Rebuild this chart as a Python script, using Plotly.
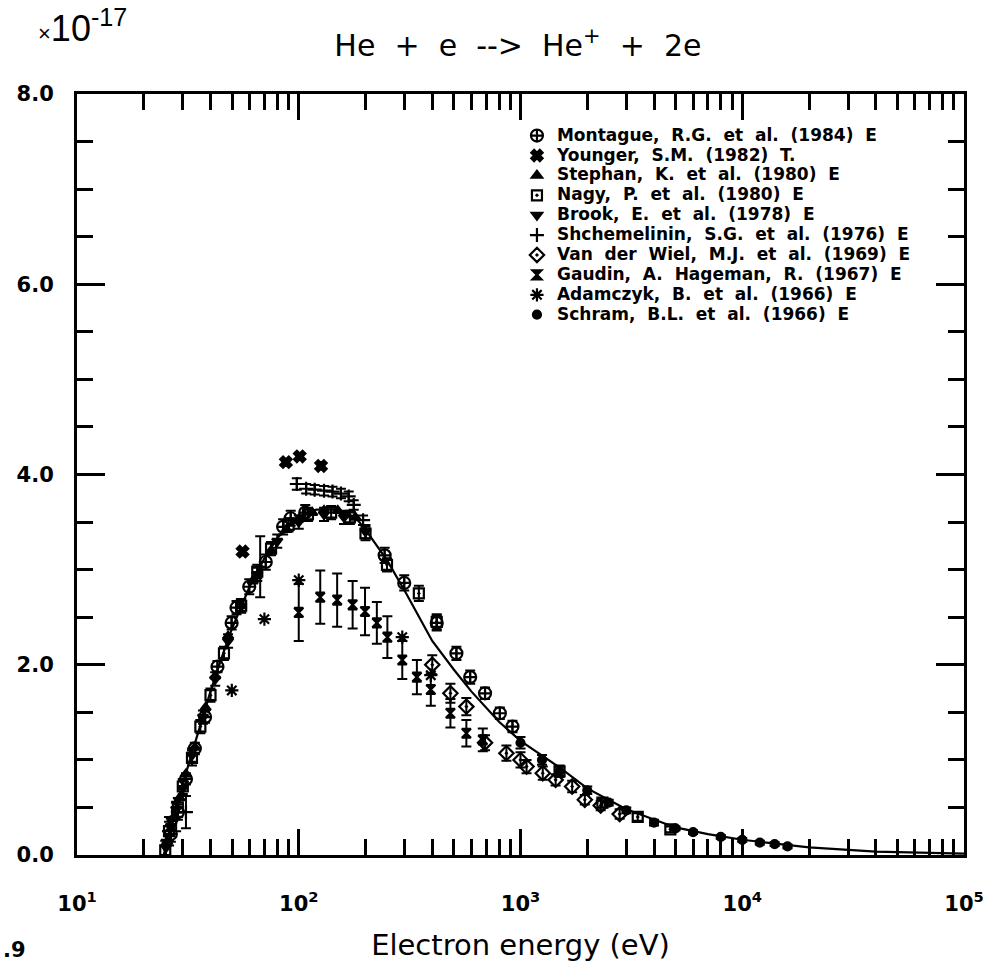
import plotly.graph_objects as go

# Recommended cross-section curve (units of 1e-17 cm^2)
fit_energy = [24.6, 26, 28, 30, 33, 36, 40, 45, 50, 60, 70, 80, 90, 100, 120, 150,
              180, 200, 250, 300, 400, 500, 600, 800, 1000, 1500, 2000, 3000, 5000,
              7000, 10000, 20000, 40000, 100000]
fit_sigma = [0.0, 0.22, 0.5, 0.75, 1.08, 1.38, 1.72, 2.08, 2.38, 2.82, 3.12, 3.33,
             3.47, 3.56, 3.63, 3.63, 3.55, 3.42, 3.1, 2.78, 2.25, 1.95, 1.72, 1.40,
             1.2, 0.92, 0.70, 0.48, 0.29, 0.22, 0.16, 0.08, 0.035, 0.015]

montague_energy = [26.5, 28.5, 31, 34, 37.8, 43, 49.8, 52.4, 59.8, 71, 85, 92, 107,
                   244, 299, 419, 514, 593, 692, 807, 920]
montague_sigma = [0.22, 0.45, 0.8, 1.12, 1.45, 1.98, 2.44, 2.6, 2.82, 3.08, 3.45, 3.54,
                  3.6, 3.15, 2.86, 2.44, 2.12, 1.87, 1.70, 1.49, 1.35]
montague_err = [0.08, 0.08, 0.06, 0.06, 0.06, 0.06, 0.07, 0.07, 0.08, 0.08, 0.08, 0.08,
                0.08, 0.08, 0.08, 0.08, 0.07, 0.07, 0.06, 0.06, 0.06]

younger_energy = [55.8, 87.5, 101, 126]
younger_sigma = [3.19, 4.13, 4.19, 4.09]

stephan_energy = [25.5, 27, 29, 31, 34, 38, 42, 48, 55, 62, 75, 88, 100, 115, 130,
                  150, 180]
stephan_sigma = [0.14, 0.38, 0.6, 0.85, 1.13, 1.55, 1.88, 2.3, 2.62, 2.88, 3.2, 3.42,
                 3.53, 3.6, 3.62, 3.62, 3.55]

nagy_energy = [25, 26, 28.5, 30, 33, 36, 40, 46, 55, 65, 75, 90, 110, 140, 170, 200,
               250, 348, 419, 1500, 2340, 3378, 4740]
nagy_sigma = [0.05, 0.25, 0.5, 0.72, 1.02, 1.35, 1.68, 2.12, 2.62, 2.98, 3.22, 3.47,
              3.58, 3.6, 3.55, 3.38, 3.05, 2.75, 2.45, 0.88, 0.55, 0.40, 0.27]
nagy_err = [0.1, 0.1, 0.1, 0.08, 0.08, 0.07, 0.07, 0.07, 0.07, 0.07, 0.07, 0.07, 0.07,
            0.07, 0.07, 0.07, 0.07, 0.08, 0.08, 0.06, 0.05, 0.04, 0.03]

brook_energy = [25.2, 26.5, 28, 30, 33, 37, 42, 48, 55, 65, 80, 100, 130, 160, 200]
brook_sigma = [0.08, 0.3, 0.48, 0.7, 1.05, 1.45, 1.85, 2.25, 2.62, 2.95, 3.3, 3.5,
               3.58, 3.55, 3.4]
brook_err = [0.08, 0.08, 0.08, 0.08, 0.07, 0.07, 0.07, 0.07, 0.07, 0.07, 0.07, 0.07,
             0.07, 0.07, 0.07]

shchem_energy = [26, 28, 31, 67, 98, 108, 118, 130, 142, 155, 168, 177, 195]
shchem_sigma = [0.25, 0.4, 0.45, 3.03, 3.9, 3.85, 3.84, 3.83, 3.82, 3.8, 3.77, 3.68,
                3.52]
shchem_err = [0.15, 0.15, 0.17, 0.32, 0.06, 0.05, 0.05, 0.05, 0.05, 0.05, 0.05, 0.05,
              0.05]

vdwiel_energy = [400, 483, 570, 692, 864, 1000, 1065, 1260, 1440, 1710, 1950, 2300,
                 2800]
vdwiel_sigma = [2.0, 1.70, 1.56, 1.18, 1.07, 1.0, 0.93, 0.86, 0.79, 0.72, 0.58, 0.52,
                0.43]
vdwiel_err = [0.1, 0.1, 0.09, 0.08, 0.08, 0.08, 0.07, 0.07, 0.06, 0.06, 0.05, 0.05,
              0.05]

gaudin_energy = [100, 125, 149, 175, 199, 225, 251, 293, 341, 394, 483, 570, 676]
gaudin_sigma = [2.55, 2.71, 2.68, 2.63, 2.56, 2.44, 2.29, 2.05, 1.87, 1.74, 1.49,
                1.28, 1.21]
gaudin_err = [0.3, 0.28, 0.28, 0.25, 0.25, 0.22, 0.22, 0.2, 0.18, 0.17, 0.15, 0.14,
              0.12]

adamczyk_energy = [49.9, 70, 100, 293, 394]
adamczyk_sigma = [1.73, 2.48, 2.89, 2.29, 1.89]

schram_energy = [1000, 1250, 1500, 2000, 2500, 3000, 4000, 5000, 6000, 8000, 10000,
                 12000, 14000, 16000]
schram_sigma = [1.18, 1.0, 0.88, 0.68, 0.55, 0.47, 0.34, 0.28, 0.24, 0.19, 0.16,
                0.13, 0.115, 0.09]
schram_err = [0.06, 0.05, 0.05, 0.04, 0.03, 0.03, 0.03, 0.02, 0.02, 0.02, 0.02, 0.02,
              0.02, 0.02]

x_tick_vals = [10, 100, 1000, 10000, 100000]
x_tick_text = ["10<sup>1</sup>", "10<sup>2</sup>", "10<sup>3</sup>",
               "10<sup>4</sup>", "10<sup>5</sup>"]
y_tick_vals = [0, 2, 4, 6, 8]
y_tick_text = ["0.0", "2.0", "4.0", "6.0", "8.0"]

x_minor_vals = [m * d for d in (10, 100, 1000, 10000) for m in range(2, 10)]

INK = "black"
FONT = "DejaVu Sans"
NBSP = "\u00a0"


def err_bar(values):
    return dict(type="data", array=values, color=INK, thickness=2, width=5,
                visible=True)


def label(text):
    # plotter-style lettering: generous word spacing
    spaced = text.replace(" ", " " + NBSP)
    return f'<span style="font-size:17px">{spaced}</span>'


fig = go.Figure()

fig.add_trace(go.Scatter(
    x=fit_energy, y=fit_sigma, mode="lines", line=dict(color=INK, width=2.2),
    showlegend=False, hoverinfo="skip"))

series = [
    ("Montague, R.G. et al. (1984) E", montague_energy, montague_sigma, montague_err,
     "circle-cross-open", 12),
    ("Younger, S.M. (1982) T.", younger_energy, younger_sigma, None, "x", 10),
    ("Stephan, K. et al. (1980) E", stephan_energy, stephan_sigma, None,
     "triangle-up", 9),
    ("Nagy, P. et al. (1980) E", nagy_energy, nagy_sigma, nagy_err,
     "square-open-dot", 10),
    ("Brook, E. et al. (1978) E", brook_energy, brook_sigma, brook_err,
     "triangle-down", 9),
    ("Shchemelinin, S.G. et al. (1976) E", shchem_energy, shchem_sigma, shchem_err,
     "cross-thin-open", 10),
    ("Van der Wiel, M.J. et al. (1969) E", vdwiel_energy, vdwiel_sigma, vdwiel_err,
     "diamond-open-dot", 11),
    ("Gaudin, A. Hageman, R. (1967) E", gaudin_energy, gaudin_sigma, gaudin_err,
     "hourglass", 9),
    ("Adamczyk, B. et al. (1966) E", adamczyk_energy, adamczyk_sigma, None,
     "asterisk-open", 11),
    ("Schram, B.L. et al. (1966) E", schram_energy, schram_sigma, schram_err,
     "circle", 8),
]

for name, xs, ys, errs, symbol, size in series:
    fig.add_trace(go.Scatter(
        x=xs, y=ys, mode="markers", name=label(name),
        marker=dict(symbol=symbol, size=size, color=INK,
                    line=dict(color=INK, width=2.2)),
        error_y=err_bar(errs) if errs is not None else None,
    ))

axis_common = dict(
    showline=True, linecolor=INK, linewidth=3, mirror="ticks",
    ticks="inside", tickcolor=INK, tickwidth=2.5, showgrid=False, zeroline=False,
    tickfont=dict(family=FONT, size=21, color=INK, weight="bold"),
)

fig.update_xaxes(
    type="log", range=[1, 5], tickmode="array", tickvals=x_tick_vals,
    ticktext=x_tick_text, ticklen=26, ticklabelstandoff=28,
    ticklabeloverflow="allow",
    minor=dict(tickmode="array", tickvals=x_minor_vals, ticks="inside",
               ticklen=16, tickwidth=2.5, tickcolor=INK),
    title=dict(text="Electron energy (eV)", standoff=20,
               font=dict(family=FONT, size=29, color=INK)),
    **axis_common)

fig.update_yaxes(
    range=[0, 8], tickmode="array", tickvals=y_tick_vals, ticktext=y_tick_text,
    ticklen=28, ticklabelstandoff=16,
    minor=dict(dtick=0.5, ticks="inside", ticklen=16, tickwidth=2.5, tickcolor=INK),
    **axis_common)

gap = NBSP * 2
title_text = gap.join(["He", "+", "e", "-->", "He<sup>+</sup>", "+", "2e"])

fig.update_layout(
    width=996, height=979,
    margin=dict(l=77, r=19, t=94, b=124),
    paper_bgcolor="white", plot_bgcolor="white",
    title=dict(
        text=title_text,
        x=0.52, xanchor="center", y=0.954, yanchor="middle",
        font=dict(family=FONT, size=30, color=INK)),
    legend=dict(
        x=0.496, xanchor="left", y=0.965, yanchor="top",
        bgcolor="rgba(0,0,0,0)", borderwidth=0,
        font=dict(family=FONT, size=13, color=INK, weight="bold"),
        itemsizing="trace", tracegroupgap=0),
    annotations=[
        dict(text='<span style="font-size:22px">×</span>10<sup>-17</sup>',
             xref="paper", yref="paper",
             x=-0.046, y=1.09, xanchor="left", yanchor="middle", showarrow=False,
             font=dict(family="Liberation Sans", size=36, color=INK)),
        dict(text=".9", xref="paper", yref="paper", x=-0.086, y=-0.125,
             xanchor="left", yanchor="middle", showarrow=False,
             font=dict(family=FONT, size=21, color=INK, weight="bold")),
    ],
)

fig.write_html("out.html")
